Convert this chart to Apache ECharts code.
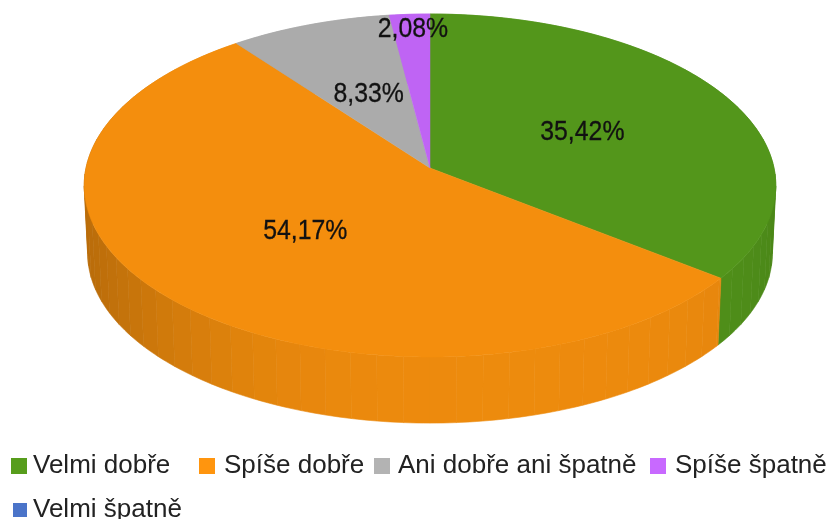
<!DOCTYPE html>
<html>
<head>
<meta charset="utf-8">
<style>
html, body { margin: 0; padding: 0; background: #fff; }
#main { width: 829px; height: 519px; filter: blur(0.6px); }
</style>
<script src="https://cdn.jsdelivr.net/npm/echarts@6/dist/echarts.min.js"></script>
</head>
<body>
<div id="main"></div>
<script>
var categories = ['Velmi dobře', 'Spíše dobře', 'Ani dobře ani špatně', 'Spíše špatně', 'Velmi špatně'];
var values = [35.42, 54.17, 8.33, 2.08, 0];
var colors = ['#579d1c', '#ff950e', '#b3b3b3', '#c869ff', '#4b74c9'];

// the pie is a flat disc seen in perspective
var cx = 430, topY = 168, bottomY = 236;
var a = 344, b = 169.7, k = 0.102, bottomScale = 0.99;
var total = values.reduce(function (s, v) { return s + v; }, 0);

function project(theta, r, y0, scale) {
    var d = 1 + k * r * Math.cos(theta);
    return [
        cx + scale * a * r * Math.sin(theta) / d,
        y0 - scale * b * r * Math.cos(theta) / d
    ];
}

function shade(hex, f) {
    var c = echarts.color.parse(hex);
    return 'rgb(' + Math.round(c[0] * f) + ',' + Math.round(c[1] * f) + ',' + Math.round(c[2] * f) + ')';
}

// darker toward the left side of the wall
function wallFactor(theta) {
    var p = theta - 170 * Math.PI / 180;
    var s = Math.abs(Math.sin(p));
    return 0.93 - (p > 0 ? 0.2 : 0.08) * s * s * s;
}

function makeRender(index) {
    return function (params, api) {
        var value = api.value(0);
        var children = [];
        if (!value) return { type: 'group', children: children };
        var before = 0;
        for (var i = 0; i < index; i++) before += values[i];
        var start = before / total * Math.PI * 2;
        var end = (before + value) / total * Math.PI * 2;
        var step = 4 * Math.PI / 180;

        // side wall facets
        var t = start;
        while (t < end - 1e-6) {
            var next = Math.min((Math.floor(t / step + 1e-6) + 1) * step, end);
            var col = shade(colors[index], wallFactor((t + next) / 2));
            var pts = [];
            for (var j = 0; j <= 4; j++) pts.push(project(t + (next - t) * j / 4, 1, topY, 1));
            for (j = 4; j >= 0; j--) pts.push(project(t + (next - t) * j / 4, 1, bottomY, bottomScale));
            children.push({
                type: 'polygon', z2: 1,
                shape: { points: pts },
                style: { fill: col, stroke: col, lineWidth: 0.6 }
            });
            t = next;
        }

        // top face
        var top = [[cx, topY]];
        var n = Math.ceil((end - start) * 180 / Math.PI);
        for (j = 0; j <= n; j++) top.push(project(start + (end - start) * j / n, 1, topY, 1));
        var topCol = shade(colors[index], 0.955);
        children.push({
            type: 'polygon', z2: 10,
            shape: { points: top },
            style: { fill: topCol, stroke: topCol, lineWidth: 0.5 }
        });

        // label: small slices sit near the rim
        var pos = project((start + end) / 2, value / total < 0.05 ? 0.9 : 0.5, topY, 1);
        children.push({
            type: 'text', z2: 20,
            x: pos[0] + 1.5, y: pos[1] + 1,
            scaleX: 0.92,
            style: {
                text: value.toFixed(2).replace('.', ',') + '%',
                font: '27px "Liberation Sans"',
                fill: '#111',
                stroke: '#111',
                lineWidth: 0.3,
                align: 'center',
                verticalAlign: 'middle'
            }
        });
        return { type: 'group', children: children };
    };
}

var legendPos = [[11, 453], [199, 453], [374, 453], [650, 453], [13, 497]];
var legendTextGap = [1, 4, 3, 4, 1];
var legendIconWidth = [16, 16, 16, 16, 14];

var option = {
    animation: false,
    legend: categories.map(function (name, i) {
        return {
            data: [name],
            left: legendPos[i][0],
            top: legendPos[i][1],
            padding: 0,
            icon: 'rect',
            itemWidth: legendIconWidth[i],
            itemHeight: legendIconWidth[i],
            itemGap: 0,
            textStyle: { fontFamily: 'Liberation Sans', fontSize: 26, color: '#222', padding: [0, 0, 0, legendTextGap[i]] }
        };
    }),
    series: categories.map(function (name, i) {
        return {
            type: 'custom',
            name: name,
            coordinateSystem: 'none',
            itemStyle: { color: colors[i] },
            renderItem: makeRender(i),
            data: [[values[i]]]
        };
    })
};

var chart = echarts.init(document.getElementById('main'), null, { renderer: 'canvas' });
chart.setOption(option);
</script>
</body>
</html>
